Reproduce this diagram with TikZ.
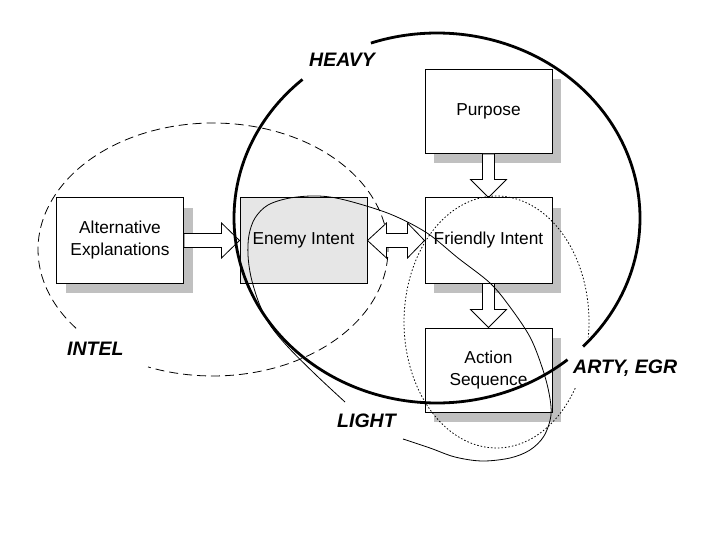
\documentclass[tikz,border=0pt]{standalone}
\usepackage{fontspec}
\setmainfont{Liberation Sans}
\usetikzlibrary{calc,shadows}
\definecolor{shadowgray}{RGB}{192,192,192}
\definecolor{enemygray}{RGB}{230,230,230}
\begin{document}
\begin{tikzpicture}[x=1pt,y=-1pt,
  box/.style={draw=black, line width=1pt, fill=white, minimum width=127pt, minimum height=85pt,
    inner sep=0pt, align=center, font=\fontsize{17.3}{22}\selectfont},
  shadowed/.style={drop shadow={shadow xshift=9pt, shadow yshift=-10pt, fill=shadowgray, opacity=1}},
  blockarrow/.style={draw=black, line width=0.8pt, fill=white, line join=miter},
  lbl/.style={anchor=base west, inner sep=0pt, font=\fontsize{19.5}{23}\selectfont\bfseries\itshape},
  heavyline/.style={line width=2.8pt},
  thinline/.style={line width=0.8pt},
  intelline/.style={line width=0.8pt, dash pattern=on 9pt off 5pt},
  dotline/.style={line width=0.8pt, dash pattern=on 1.5pt off 2pt}]
\useasboundingbox (0,0) rectangle (720,540);

% boxes
\node[box, shadowed] (alt) at (120,240.5) {Alternative\\Explanations};
\node[box, fill=enemygray] (enemy) at (303.5,240.5) {Enemy Intent};
\node[box, shadowed, minimum height=84pt] (purpose) at (488.5,111.5) {Purpose};
\node[box, shadowed] (friendly) at (488.5,240.5) {Friendly Intent};
\node[box, shadowed, minimum height=84pt] (action) at (488.5,370) {Action\\Sequence};

% INTEL dashed ellipse (under the arrows)
\draw[intelline] plot[domain=-218.5:111.8, samples=150, variable=\t] ({213+175*cos(\t)}, {249.5+126.5*sin(\t)});

% block arrows
\draw[blockarrow] ($(alt.east)+(0,-7)$) -- ($(enemy.west)+(-18,-7)$) -- ($(enemy.west)+(-18,-17.5)$)
  -- (enemy.west) -- ($(enemy.west)+(-18,17.5)$) -- ($(enemy.west)+(-18,7)$) -- ($(alt.east)+(0,7)$) -- cycle;
\draw[blockarrow] (enemy.east) -- ($(enemy.east)+(19,-17.5)$) -- ($(enemy.east)+(19,-7)$)
  -- ($(friendly.west)+(-17,-7)$) -- ($(friendly.west)+(-17,-17.5)$) -- (friendly.west)
  -- ($(friendly.west)+(-17,17.5)$) -- ($(friendly.west)+(-17,7)$) -- ($(enemy.east)+(19,7)$)
  -- ($(enemy.east)+(19,17.5)$) -- cycle;
\draw[blockarrow] ($(purpose.south)+(-6,0)$) -- ($(friendly.north)+(-6,-18)$) -- ($(friendly.north)+(-18,-18)$)
  -- (friendly.north) -- ($(friendly.north)+(18,-18)$) -- ($(friendly.north)+(6,-18)$) -- ($(purpose.south)+(6,0)$) -- cycle;
\draw[blockarrow] ($(friendly.south)+(-6,0)$) -- ($(action.north)+(-6,-18)$) -- ($(action.north)+(-18,-18)$)
  -- (action.north) -- ($(action.north)+(18,-18)$) -- ($(action.north)+(6,-18)$) -- ($(friendly.south)+(6,0)$) -- cycle;

% HEAVY thick ellipse
\draw[heavyline] plot[domain=-109:44, samples=150, variable=\t] ({437+203*cos(\t)}, {218+185*sin(\t)});
\draw[heavyline] plot[domain=50:228.5, samples=150, variable=\t] ({437+203*cos(\t)}, {218+185*sin(\t)});

% dotted ellipse
\draw[dotline] plot[domain=-328.3:7, samples=180, variable=\t] ({496.5+92.5*cos(\t)}, {322+126*sin(\t)});

% LIGHT thin curve
\draw[thinline] plot[smooth, tension=0.55] coordinates {
  (345,402) (316,375) (288,347) (270,325) (259,303) (251,277) (248,255) (249,235) (255,218)
  (268,205) (290,198) (318,196) (345,200) (390,214) (427,233) (458,258) (490,283) (510,307)
  (530,337) (542,367) (549,393) (551,415) (544,436) (530,450) (510,458) (482,461) (455,457)
  (430,448) (403,439)};

% labels
\node[lbl] (heavy) at (309,67) {HEAVY};
\node[lbl] (intel) at (67,355) {INTEL};
\node[lbl] (light) at (337,427) {LIGHT};
\node[lbl] (arty) at (573,373) {ARTY, EGR};
\end{tikzpicture}
\end{document}
